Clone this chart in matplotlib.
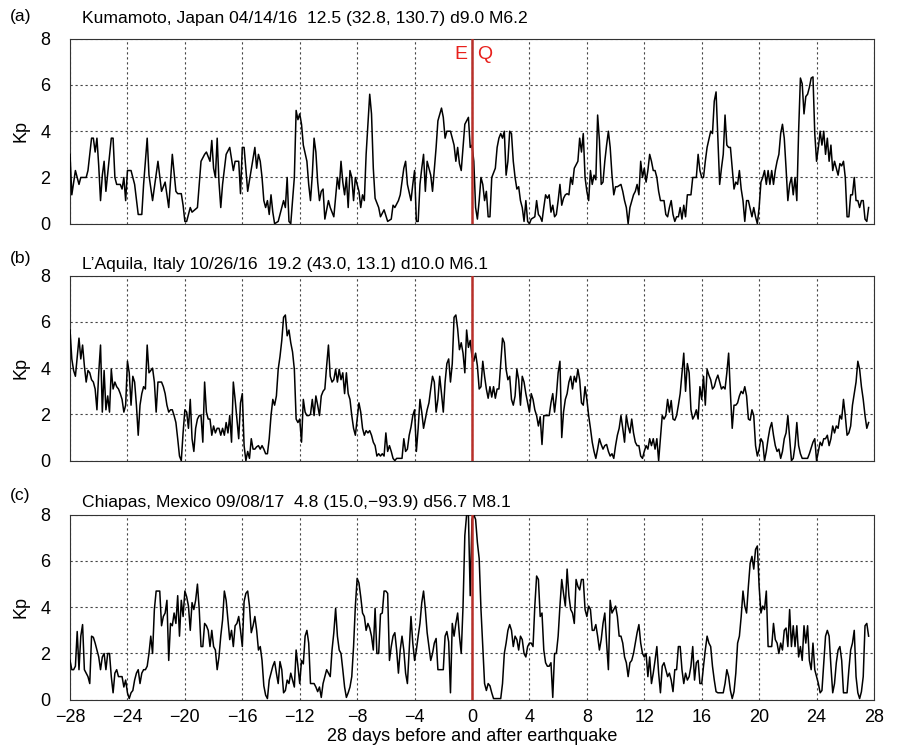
import numpy as np
import matplotlib
matplotlib.use("Agg")
import matplotlib.pyplot as plt

plt.rcParams['font.family'] = ['Liberation Sans', 'DejaVu Sans']

# Kp readings as (3-hour interval number counted from day -28, Kp value).
# Interval n starts at day -28 + n/8; readings are joined by straight lines.
kumamoto_kp = [
    (0, 3.0), (1, 1.25), (3, 2.3), (5, 1.7), (6, 2.0), (9, 2.0), (10, 2.3), (12, 3.7),
    (13, 3.7), (14, 3.1), (15, 3.7), (16, 2.5), (17, 1.0), (18, 2.1), (19, 2.7), (20, 1.4),
    (23, 3.7), (24, 3.7), (25, 2.0), (26, 1.7), (28, 1.7), (29, 1.5), (30, 2.0), (31, 1.0),
    (32, 2.3), (34, 2.3), (36, 1.7), (38, 0.4), (40, 0.4), (41, 1.7), (43, 3.7), (44, 2.1),
    (46, 1.0), (49, 2.7), (51, 1.4), (53, 1.8), (55, 0.7), (57, 3.0), (59, 1.4), (60, 1.3),
    (62, 1.3), (63, 0.8), (64, 0.1), (65, 0.1), (67, 0.7), (68, 0.5), (71, 0.7), (73, 2.7),
    (75, 3.0), (76, 3.1), (78, 2.7), (79, 3.6), (80, 2.4), (81, 2.0), (82, 3.7), (83, 1.8),
    (84, 0.7), (85, 1.7), (87, 3.0), (89, 3.3), (91, 2.3), (92, 2.7), (94, 2.7), (95, 1.3),
    (96, 3.3), (97, 3.3), (99, 1.4), (103, 3.3),
    (104, 2.4), (105, 3.0), (106, 2.7), (107, 2.0), (108, 1.0), (109, 0.7), (110, 1.0), (111, 0.4),
    (112, 1.25), (113, 0.5), (114, 0.0), (116, 0.1), (118, 0.7), (119, 1.0), (120, 0.7), (121, 2.0),
    (122, 0.1), (123, 0.0), (125, 2.0), (126, 4.9), (127, 4.5), (128, 4.75), (129, 4.3), (130, 3.4),
    (132, 2.7), (133, 1.7), (134, 1.0), (135, 2.1), (136, 3.7), (137, 3.1), (138, 1.8), (139, 1.0),
    (140, 1.4), (141, 1.5), (142, 0.2), (144, 1.0), (145, 0.7), (147, 0.3), (149, 2.0), (150, 1.5),
    (151, 2.7), (152, 1.8), (153, 1.25), (154, 2.0), (155, 0.7), (156, 2.3), (157, 2.0), (158, 1.0),
    (159, 2.0), (161, 1.4), (162, 0.7), (163, 1.25), (164, 1.0), (165, 3.0), (166, 4.3), (167, 5.6),
    (168, 4.75), (169, 2.4), (170, 1.1), (172, 0.7), (173, 0.3), (175, 0.6), (177, 0.1), (179, 0.2),
    (180, 0.8), (181, 0.7), (183, 1.0), (184, 1.25), (186, 2.4), (187, 2.7), (188, 1.7), (190, 1.0),
    (191, 1.7), (192, 2.3), (193, 0.1), (194, 0.1), (195, 1.7), (196, 2.4), (197, 3.0), (198, 1.4),
    (199, 2.7), (201, 2.1), (202, 1.4), (204, 3.3), (205, 4.45), (207, 5.0), (208, 4.6), (209, 3.7),
    (210, 4.0), (212, 4.0), (214, 3.4), (215, 2.7), (216, 3.3), (217, 2.6), (218, 2.3), (219, 3.3),
    (220, 4.3), (221, 4.45), (222, 4.6),
    (223, 3.3), (224, 3.4), (225, 2.7), (226, 0.7), (227, 0.2), (228, 1.0), (229, 2.0), (230, 1.7),
    (231, 1.0), (232, 1.4), (233, 0.3), (234, 0.3), (235, 2.0), (236, 2.2), (237, 2.4), (238, 3.3),
    (239, 3.7), (240, 3.9), (241, 3.7), (242, 4.0), (243, 2.1), (244, 2.7), (245, 4.0), (246, 3.9),
    (247, 2.7), (248, 2.0), (249, 1.5), (250, 1.6), (251, 1.0), (252, 0.7), (253, 0.1), (254, 1.0),
    (255, 0.1), (256, 0.0), (257, 0.2), (259, 0.3), (260, 1.0), (261, 0.4), (262, 0.3), (263, 0.1),
    (264, 0.7), (265, 1.25), (266, 1.1), (267, 1.25), (268, 0.5), (269, 0.8), (270, 0.3), (271, 0.4),
    (272, 1.0), (273, 1.7), (274, 0.8), (275, 1.1), (276, 1.25), (277, 1.3), (278, 1.25), (279, 2.0),
    (280, 1.7), (281, 2.4), (283, 2.7), (284, 3.7), (285, 3.1), (286, 3.9), (287, 2.0), (288, 1.4),
    (289, 1.0), (290, 2.3), (291, 1.7), (292, 2.1), (293, 1.9), (294, 4.7), (295, 3.6), (296, 1.7),
    (297, 1.8), (298, 2.7), (299, 3.4), (300, 4.0), (301, 3.3), (302, 2.1), (303, 1.25), (304, 1.6),
    (305, 1.6), (307, 1.7), (308, 1.4), (309, 1.0), (310, 0.7), (311, 0.0), (312, 0.7), (314, 1.25),
    (315, 1.4), (316, 1.7), (317, 1.25), (318, 2.7), (319, 2.0), (320, 2.4), (321, 1.8), (322, 2.3),
    (323, 3.0), (324, 2.7), (325, 2.3), (326, 2.3), (327, 2.0), (328, 1.4), (329, 1.0), (331, 1.0),
    (332, 0.4), (333, 0.3), (334, 0.7), (335, 1.0),
    (336, 0.4), (337, 0.1), (338, 0.3), (339, 0.3), (340, 0.7), (341, 0.2), (342, 0.8), (343, 0.3),
    (344, 1.25), (346, 1.25), (347, 2.0), (349, 2.0), (350, 3.0), (351, 2.3), (352, 2.0), (353, 2.0),
    (354, 2.7), (355, 3.3), (357, 4.0), (358, 3.9), (359, 5.3), (360, 5.7), (361, 3.7), (362, 1.7),
    (363, 2.4), (364, 3.0), (365, 4.7), (366, 3.4), (367, 3.3), (368, 3.3), (369, 2.4), (370, 1.5),
    (371, 1.8), (372, 1.7), (373, 2.3), (374, 1.5), (375, 1.0), (376, 0.1), (377, 1.0), (378, 1.0),
    (380, 0.3), (381, 0.7), (382, 0.3), (383, 0.0), (384, 0.7), (385, 1.8), (386, 2.0), (387, 2.3),
    (388, 1.7), (389, 2.3), (390, 1.7), (391, 2.3), (392, 1.7), (393, 2.3), (394, 2.7), (395, 3.0),
    (396, 3.9), (397, 4.3), (398, 3.7), (399, 2.4), (400, 1.0), (401, 1.7), (402, 2.0), (403, 1.25),
    (404, 2.0), (405, 1.0), (406, 4.0), (407, 6.3), (408, 6.05), (409, 4.75), (410, 5.5), (411, 5.6),
    (412, 5.9), (413, 6.3), (414, 6.35), (415, 3.9), (416, 2.7), (417, 3.3), (418, 4.0), (419, 3.4),
    (420, 4.0), (421, 3.0), (422, 3.7), (423, 2.7), (424, 3.4), (425, 2.3), (426, 2.7), (427, 2.4),
    (428, 2.1), (429, 2.6), (430, 2.5), (431, 2.7), (432, 2.0), (433, 0.3), (434, 0.3), (435, 1.25),
    (436, 1.25), (437, 2.0), (438, 1.0), (439, 1.0), (440, 0.7), (441, 1.0), (442, 1.0), (443, 0.2),
    (444, 0.1), (445, 0.7),
]

laquila_kp = [
    (0, 5.65), (1, 4.4), (2, 3.9), (3, 3.65), (4, 4.5), (5, 5.3), (6, 4.4), (7, 5.0),
    (8, 4.1), (9, 3.4), (10, 3.9), (11, 3.8), (12, 3.5), (13, 3.4), (14, 3.1), (15, 2.2),
    (16, 3.8), (17, 5.0), (18, 2.1), (19, 3.9), (20, 2.2), (21, 2.8), (22, 2.1), (23, 3.95),
    (24, 3.1), (25, 3.4), (26, 3.2), (27, 3.1), (28, 2.9), (29, 2.65), (30, 2.1), (31, 2.4),
    (32, 4.3), (33, 3.8), (34, 2.4), (35, 3.65), (36, 3.4), (37, 2.4), (38, 1.1), (39, 2.4),
    (40, 2.9), (41, 3.2), (42, 3.1), (43, 5.0), (44, 3.8), (45, 3.9), (46, 4.0), (47, 3.4),
    (48, 2.1), (49, 3.4), (50, 3.4), (51, 3.4), (52, 3.2), (53, 2.9), (54, 2.4), (55, 2.1),
    (56, 2.2), (57, 2.2), (58, 1.95), (59, 1.65), (60, 0.95), (61, 0.2), (62, 0.0), (63, 1.2),
    (64, 2.2), (65, 2.1), (66, 1.4), (67, 2.65), (68, 0.95), (69, 0.4), (70, 1.4), (71, 1.8),
    (72, 1.95), (73, 1.95), (74, 0.8), (75, 3.4), (76, 2.1), (77, 1.8), (78, 1.8), (79, 1.1),
    (80, 1.5), (81, 1.2), (82, 1.4), (83, 1.4), (84, 1.1), (85, 1.4), (86, 1.1), (87, 1.65),
    (88, 1.2), (89, 1.95), (90, 0.8), (91, 3.4), (92, 2.65), (93, 1.8), (94, 0.95), (95, 2.5),
    (96, 2.9), (97, 0.65), (98, 0.0), (99, 0.4), (100, 0.1), (101, 0.95), (102, 0.5), (103, 0.5),
    (104, 0.6), (105, 0.65), (106, 0.5), (107, 0.65), (108, 0.5), (109, 0.3), (110, 0.3), (111, 0.95),
    (112, 1.95), (113, 2.65), (114, 2.4), (115, 2.8), (116, 3.95), (117, 4.5), (118, 5.2), (119, 6.2),
    (120, 6.3), (121, 5.4), (122, 5.65), (123, 5.1), (124, 4.7), (125, 3.95), (126, 1.8), (127, 1.65),
    (128, 1.8), (129, 0.8), (130, 2.65), (131, 2.1), (132, 1.95), (133, 1.95), (134, 2.0), (135, 2.65),
    (136, 1.95), (137, 2.8), (138, 2.4), (139, 1.95), (140, 2.8), (141, 3.0), (142, 3.1), (143, 4.1),
    (144, 5.0), (145, 3.65), (146, 3.4), (147, 3.5), (148, 3.95), (149, 3.4), (150, 3.95), (151, 3.5),
    (152, 3.8), (153, 2.9), (154, 3.8), (155, 2.9), (156, 2.65), (157, 1.95), (158, 1.4), (159, 1.1),
    (160, 1.8), (161, 2.5), (162, 2.1), (163, 1.4), (164, 1.1), (165, 1.3), (166, 1.2), (167, 1.3),
    (168, 1.1), (169, 0.8), (170, 0.65), (171, 0.2), (172, 0.3), (173, 0.2), (174, 0.3), (175, 0.2),
    (176, 1.2), (177, 0.4), (178, 0.65), (179, 0.4), (180, 0.1), (181, 0.0), (182, 0.1), (184, 0.1),
    (185, 0.1), (186, 0.95), (187, 0.4), (188, 0.5), (189, 1.1), (190, 1.45), (191, 1.95), (192, 2.2),
    (193, 0.4), (194, 1.4), (195, 2.65), (196, 2.1), (197, 1.4), (198, 1.8), (199, 2.2), (200, 2.5),
    (201, 3.1), (202, 3.65), (203, 3.4), (204, 2.1), (205, 2.65), (206, 3.65), (207, 2.9), (208, 2.1),
    (209, 3.4), (210, 4.2), (211, 4.4), (212, 3.4), (213, 4.2), (214, 6.2), (215, 6.3), (216, 5.7),
    (217, 4.8), (218, 5.1), (219, 4.65), (220, 3.8), (221, 5.65), (222, 4.9),
    (223, 5.2), (224, 4.5), (225, 4.3), (226, 4.65), (227, 4.1), (228, 3.1), (229, 3.2), (230, 4.3),
    (231, 3.65), (232, 3.1), (233, 2.7), (234, 3.2), (235, 2.75), (236, 3.2), (237, 2.7), (238, 3.1),
    (239, 3.1), (240, 4.2), (241, 5.3), (242, 5.1), (243, 3.95), (244, 3.5), (245, 3.65), (246, 2.65),
    (247, 2.4), (248, 2.8), (249, 3.95), (250, 3.5), (251, 2.4), (252, 3.65), (253, 3.4), (254, 2.9),
    (255, 2.5), (256, 2.1), (257, 2.9), (258, 2.65), (259, 2.2), (260, 1.95), (261, 1.5), (262, 1.9),
    (263, 0.7), (264, 1.95), (265, 1.95), (267, 1.95), (268, 2.5), (269, 2.9), (270, 2.1), (271, 2.8),
    (272, 3.8), (273, 4.3), (274, 1.0), (275, 2.1), (276, 2.65), (277, 2.9), (278, 3.4), (279, 3.65),
    (280, 3.1), (281, 3.65), (282, 3.4), (283, 3.95), (284, 3.5), (285, 2.5), (286, 2.4), (287, 3.2),
    (288, 2.65), (289, 1.95), (290, 1.4), (291, 0.8), (292, 0.4), (293, 0.1), (294, 0.5), (295, 0.95),
    (296, 0.7), (297, 0.5), (298, 0.65), (299, 0.7), (300, 0.4), (301, 0.2), (302, 0.3), (303, 0.1),
    (304, 0.65), (305, 1.1), (306, 1.4), (307, 1.95), (308, 1.4), (309, 0.8), (310, 1.95), (311, 1.5),
    (312, 1.2), (313, 1.8), (314, 1.2), (315, 0.8), (316, 0.65), (317, 0.65), (318, 0.2), (319, 0.1),
    (320, 0.4), (321, 0.65), (322, 0.5), (323, 0.95), (324, 0.65), (325, 0.95), (326, 0.5), (327, 0.95),
    (328, 0.0), (329, 0.95), (330, 1.95), (331, 1.8), (332, 1.95), (333, 2.65), (334, 2.1),
    (335, 2.6), (336, 1.8), (337, 1.75), (338, 1.95), (339, 2.4), (340, 2.9), (341, 3.8), (342, 4.65),
    (343, 3.0), (344, 4.2), (345, 3.8), (346, 2.2), (347, 1.8), (348, 1.95), (349, 2.2), (350, 1.8),
    (351, 3.2), (352, 2.65), (353, 3.65), (354, 2.4), (355, 3.95), (356, 3.7), (357, 3.5), (358, 3.1),
    (359, 3.2), (360, 3.5), (361, 3.7), (362, 3.4), (363, 3.1), (364, 3.2), (365, 3.1), (366, 3.8),
    (367, 4.65), (368, 2.9), (369, 1.4), (370, 2.4), (371, 2.4), (372, 2.5), (373, 2.8), (374, 3.0),
    (375, 2.9), (376, 3.2), (377, 2.8), (378, 1.8), (379, 1.75), (380, 2.2), (381, 1.95), (382, 0.65),
    (383, 0.2), (384, 0.5), (385, 0.95), (386, 0.8), (387, 0.0), (388, 0.4), (389, 0.95), (390, 1.4),
    (391, 1.65), (392, 1.1), (393, 0.65), (394, 0.4), (395, 0.5), (396, 0.1), (397, 0.4), (398, 0.95),
    (399, 1.2), (400, 1.95), (401, 0.95), (402, 0.0), (403, 0.1), (404, 0.65), (405, 1.65), (406, 0.65),
    (407, 0.3), (408, 0.1), (409, 0.1), (411, 0.1), (412, 0.3), (414, 0.8), (415, 0.95), (416, 0.0),
    (417, 0.4), (418, 0.8), (419, 0.65), (420, 0.95), (421, 0.95), (422, 1.1), (423, 0.65), (424, 0.95),
    (425, 1.5), (426, 1.2), (427, 1.5), (428, 1.4), (429, 1.95), (430, 1.8), (431, 2.65), (432, 1.95),
    (433, 1.1), (434, 1.2), (435, 1.5), (436, 2.4), (437, 2.9), (438, 3.4), (439, 4.3), (440, 3.95),
    (441, 3.2), (442, 2.65), (443, 1.95), (444, 1.4), (445, 1.65),
]

chiapas_kp = [
    (0, 1.7), (1, 1.3), (2, 1.3), (3, 1.45), (4, 2.95), (5, 1.3), (6, 2.75), (7, 3.25),
    (8, 1.3), (9, 1.15), (10, 1.0), (11, 0.7), (12, 2.75), (13, 2.7), (14, 2.45), (15, 2.15),
    (16, 1.85), (17, 1.3), (18, 1.85), (19, 2.0), (20, 1.3), (21, 2.0), (22, 2.0), (23, 1.0),
    (24, 0.3), (25, 1.15), (26, 1.3), (27, 1.0), (28, 1.0), (29, 1.0), (30, 0.55), (31, 0.85),
    (32, 0.3), (33, 0.05), (34, 0.3), (35, 0.4), (36, 0.85), (37, 1.15), (38, 1.3), (39, 0.7),
    (40, 1.15), (41, 1.3), (42, 1.3), (43, 1.45), (44, 2.0), (45, 2.75), (46, 2.0), (47, 3.9),
    (48, 4.7), (49, 4.7), (50, 4.7), (51, 3.2), (52, 3.6), (53, 3.75), (54, 4.3), (55, 1.7),
    (56, 3.3), (57, 3.2), (58, 3.75), (59, 3.3), (60, 4.5), (61, 2.75), (62, 4.3), (63, 3.6),
    (64, 4.7), (65, 4.45), (66, 4.05), (67, 3.0), (68, 4.2), (69, 3.9), (70, 4.3), (71, 5.0),
    (72, 3.9), (73, 2.3), (74, 2.3), (75, 3.3), (76, 3.2), (77, 3.0), (78, 2.3), (79, 3.0),
    (80, 2.3), (81, 2.15), (82, 1.3), (83, 1.85), (84, 2.75), (85, 3.45), (86, 4.7), (87, 4.3),
    (88, 3.45), (89, 2.6), (90, 3.0), (91, 2.3), (92, 3.2), (93, 3.3), (94, 3.6), (95, 3.0),
    (96, 2.3), (97, 4.25), (98, 4.6), (99, 4.7), (100, 4.05), (101, 2.9), (102, 3.2), (103, 3.6),
    (104, 3.0), (105, 2.15), (106, 2.3), (107, 1.7), (108, 0.6), (109, 0.2), (110, 0.05), (111, 0.85),
    (112, 1.15), (113, 1.45), (114, 1.65), (115, 1.15), (116, 0.7), (117, 1.65), (118, 1.3), (119, 0.3),
    (120, 0.4), (121, 0.85), (122, 0.7), (123, 1.15), (124, 0.85), (125, 0.55), (126, 2.15), (127, 1.45),
    (128, 0.7), (129, 1.7), (130, 1.55), (131, 2.75), (132, 3.0), (133, 2.45), (134, 0.7), (135, 0.7),
    (136, 0.7), (137, 0.55), (138, 0.35), (139, 0.55), (140, 0.1), (141, 0.7), (142, 1.0), (143, 1.3),
    (144, 1.15), (145, 1.0), (146, 2.15), (147, 2.9), (148, 3.95), (149, 2.75), (150, 2.15), (151, 2.0),
    (152, 1.3), (153, 0.55), (154, 0.1), (155, 0.3), (156, 0.55), (157, 1.0), (158, 2.3), (159, 4.05),
    (160, 5.25), (161, 5.05), (162, 4.45), (163, 3.75), (164, 3.6), (165, 3.0), (166, 3.3), (167, 3.1),
    (168, 2.75), (169, 2.15), (170, 3.95), (171, 2.0), (172, 2.0), (173, 3.7), (174, 3.75), (175, 4.7),
    (176, 4.7), (177, 4.6), (178, 1.7), (179, 2.3), (180, 2.75), (181, 2.9), (182, 2.15), (183, 1.15),
    (184, 2.15), (185, 2.75), (186, 2.15), (187, 1.15), (188, 0.7), (189, 2.15), (190, 3.6), (191, 2.45),
    (192, 1.7), (193, 2.15), (194, 2.75), (195, 3.3), (196, 4.2), (197, 4.7), (198, 3.9), (199, 2.9),
    (200, 2.3), (201, 1.7), (202, 2.0), (203, 2.45), (204, 2.65), (205, 1.3), (206, 1.3), (208, 1.3),
    (209, 2.75), (210, 2.95), (211, 2.5), (212, 0.3), (213, 3.3), (214, 2.75), (215, 3.3), (216, 3.75),
    (217, 2.75), (218, 2.0), (219, 4.05), (220, 7.1), (221, 8.0), (222, 8.0),
    (223, 4.5), (224, 7.8), (225, 8.0), (226, 7.8), (227, 6.8), (228, 6.1), (229, 3.9), (230, 2.3),
    (231, 0.7), (232, 0.4), (233, 0.7), (234, 0.6), (235, 0.3), (236, 0.05), (237, 0.05), (238, 0.05),
    (240, 0.05), (241, 0.7), (242, 2.0), (243, 2.45), (244, 3.0), (245, 3.25), (246, 3.0), (247, 2.3),
    (248, 2.75), (249, 2.6), (250, 2.15), (251, 2.75), (252, 2.6), (253, 2.0), (254, 1.85), (255, 2.3),
    (256, 2.45), (257, 2.45), (258, 2.3), (259, 4.05), (260, 5.35), (261, 5.2), (262, 3.6), (263, 3.75),
    (264, 2.15), (265, 1.6), (266, 1.45), (267, 1.45), (268, 1.6), (269, 0.1), (270, 2.0), (271, 2.0),
    (272, 2.75), (273, 4.05), (274, 5.2), (275, 4.6), (276, 4.05), (277, 5.65), (278, 4.5), (279, 3.9),
    (280, 3.75), (281, 3.3), (282, 5.2), (283, 4.9), (284, 4.75), (285, 5.2), (286, 5.2), (287, 3.9),
    (288, 3.6), (289, 4.05), (290, 3.9), (291, 3.0), (292, 3.0), (293, 3.25), (294, 2.75), (295, 2.15),
    (296, 2.6), (297, 3.3), (298, 3.75), (299, 2.45), (300, 1.3), (301, 4.3), (302, 3.75), (303, 3.9),
    (304, 4.05), (305, 3.6), (306, 2.75), (307, 2.75), (308, 2.45), (309, 1.85), (310, 1.6), (311, 1.0),
    (312, 1.6), (313, 1.7), (314, 2.0), (315, 2.45), (316, 2.9), (317, 3.25), (318, 2.45), (319, 2.0),
    (320, 1.85), (321, 2.0), (322, 1.0), (323, 1.85), (324, 0.7), (325, 1.15), (326, 1.7), (327, 2.3),
    (328, 1.15), (329, 0.3), (330, 1.45), (331, 1.6), (332, 1.3), (333, 1.0), (334, 1.15), (335, 0.85),
    (336, 0.35), (337, 1.3), (338, 1.3), (339, 2.3), (340, 2.3), (341, 1.3), (342, 0.7), (343, 1.15),
    (344, 0.85), (345, 1.0), (346, 1.45), (347, 2.3), (348, 0.85), (349, 1.6), (350, 1.7), (351, 0.7),
    (352, 0.7), (353, 1.45), (354, 2.15), (355, 2.75), (356, 2.45), (357, 2.3), (358, 1.45), (359, 0.85),
    (360, 0.35), (361, 0.3), (363, 0.3), (364, 0.3), (365, 0.7), (366, 1.3), (367, 1.0), (368, 0.4),
    (369, 0.05), (370, 0.35), (371, 1.15), (372, 2.45), (373, 2.75), (374, 3.6), (375, 4.7), (376, 4.05),
    (377, 3.75), (378, 4.9), (379, 5.9), (380, 6.2), (381, 5.65), (382, 6.5), (383, 6.65), (384, 4.9),
    (385, 3.75), (386, 4.05), (387, 3.9), (388, 4.7), (389, 2.3), (390, 2.3), (391, 2.3), (392, 3.3),
    (393, 2.6), (394, 2.45), (395, 2.0), (396, 2.45), (397, 2.15), (398, 3.0), (399, 3.1), (400, 2.3),
    (401, 3.9), (402, 2.3), (403, 3.2), (404, 2.3), (405, 3.2), (406, 1.85), (407, 2.3), (408, 1.7),
    (409, 3.2), (410, 2.45), (411, 3.2), (412, 1.7), (413, 1.3), (414, 2.45), (415, 1.3), (416, 1.0),
    (417, 0.7), (418, 0.3), (419, 0.4), (420, 1.6), (421, 2.75), (422, 3.0), (423, 2.75), (424, 1.45),
    (425, 0.3), (426, 0.7), (427, 1.6), (428, 2.15), (429, 2.3), (430, 1.7), (431, 0.3), (432, 0.3),
    (433, 0.3), (434, 1.3), (435, 2.15), (436, 2.45), (437, 3.0), (438, 1.0), (439, 0.3), (440, 0.05),
    (441, 0.35), (442, 1.0), (443, 3.2), (444, 3.3), (445, 2.75),
]

panel_tags = ["(a)", "(b)", "(c)"]
panel_titles = [
    "Kumamoto, Japan 04/14/16  12.5 (32.8, 130.7) d9.0 M6.2",
    "L\u2019Aquila, Italy 10/26/16  19.2 (43.0, 13.1) d10.0 M6.1",
    "Chiapas, Mexico 09/08/17  4.8 (15.0,\u221293.9) d56.7 M8.1",
]
series = [kumamoto_kp, laquila_kp, chiapas_kp]
x_ticks = list(range(-28, 29, 4))
y_ticks = [0, 2, 4, 6, 8]

W, H = 900, 752
fig = plt.figure(figsize=(W / 100, H / 100), dpi=100)
left, width, height = 0.0778, 0.8933, 0.246
bottoms = [0.7025, 0.3874, 0.0695]
# vertical centres (pixels from the top) of the panel headings and tags
title_y = [19, 265, 502]
tag_y = [16, 258, 496]

grid_kw = dict(color="#444444", linestyle=(0, (2, 2.5)), linewidth=0.8)

for i, (readings, tag, title) in enumerate(zip(series, panel_tags, panel_titles)):
    readings = sorted(readings)
    interval = np.array([r[0] for r in readings], dtype=float)
    kp = np.array([r[1] for r in readings])
    days = -28 + interval / 8.0

    ax = fig.add_axes([left, bottoms[i], width, height])
    ax.set_xlim(-28, 28)
    ax.set_ylim(0, 8)
    ax.set_xticks(x_ticks)
    ax.set_yticks(y_ticks)
    ax.grid(True, **grid_kw)
    ax.set_axisbelow(True)
    ax.tick_params(length=0, labelsize=13)
    ax.tick_params(axis="y", pad=14)
    ax.tick_params(axis="x", pad=7)
    if i < 2:
        ax.set_xticklabels([])
    else:
        ax.set_xlabel("28 days before and after earthquake", fontsize=13, labelpad=1)
    for s in ax.spines.values():
        s.set_linewidth(0.8)
        s.set_color("#333333")
    ax.plot(days, kp, color="black", linewidth=1.1, zorder=3, clip_on=True)
    ax.axvline(0, color="#b8302a", linewidth=1.8, zorder=4)
    ax.set_ylabel("Kp", fontsize=13, labelpad=8)
    fig.text(82 / W, 1 - title_y[i] / H, title, fontsize=12.6,
             ha="left", va="center")
    fig.text(10 / W, 1 - tag_y[i] / H, tag, fontsize=12.6,
             ha="left", va="center")
    if i == 0:
        ax.text(-0.35, 7.3, "E", color="#e8201c", fontsize=14, ha="right", va="center")
        ax.text(0.35, 7.3, "Q", color="#e8201c", fontsize=14, ha="left", va="center")

fig.savefig("out.png", dpi=100)
